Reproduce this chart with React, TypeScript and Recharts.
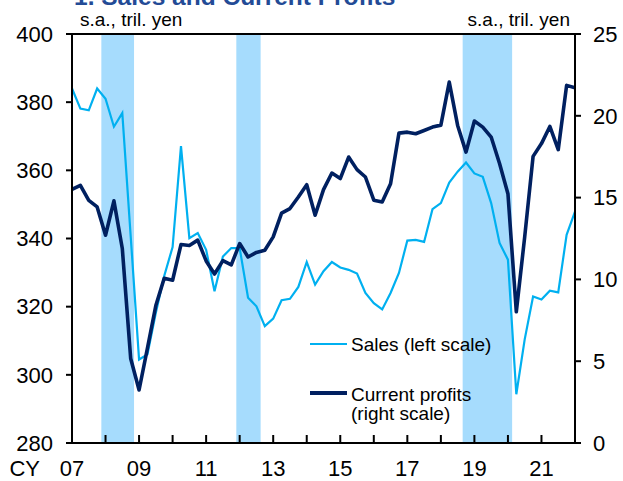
import { ComposedChart, Line, XAxis, YAxis, ReferenceArea, ReferenceLine } from "recharts";

const FONT = "'Liberation Sans', Arial, Helvetica, sans-serif";

// quarterly, CY2007 Q1 .. CY2022 Q1 (index 0..60)
const sales = [
  384.0, 378.1, 377.6, 384.0, 381.0, 372.8, 376.8, 340.7, 304.5, 306.0,
  318.2, 329.0, 337.5, 367.1, 340.1, 341.6, 336.7, 324.5, 334.7, 337.2,
  337.2, 322.6, 320.1, 314.3, 316.5, 321.9, 322.3, 325.8, 333.1, 326.5,
  330.4, 333.1, 331.5, 330.8, 329.7, 324.0, 321.0, 319.2, 324.0, 329.9,
  339.4, 339.6, 339.0, 348.6, 350.4, 356.4, 359.6, 362.3, 359.1, 358.1,
  350.4, 338.7, 333.8, 294.3, 310.4, 323.0, 322.1, 324.7, 324.2, 341.1,
  347.9,
];

const profits = [
  15.5, 15.75, 14.83, 14.43, 12.7, 14.8, 11.89, 5.17, 3.24, 5.8,
  8.4, 10.07, 9.95, 12.13, 12.07, 12.4, 11.13, 10.33, 11.15, 10.89,
  12.19, 11.37, 11.65, 11.78, 12.6, 14.05, 14.33, 15.04, 15.79, 13.92,
  15.49, 16.5, 16.16, 17.48, 16.71, 16.26, 14.84, 14.73, 15.85, 18.94,
  19.0, 18.9, 19.1, 19.31, 19.43, 22.06, 19.41, 17.78, 19.68, 19.31,
  18.7, 17.08, 15.24, 8.02, 12.6, 17.52, 18.3, 19.35, 17.93, 21.86,
  21.72,
];

const yearTicks = [0, 4, 8, 12, 16, 20, 24, 28, 32, 36, 40, 44, 48, 52, 56, 60];
const yearLabels: Record<number, string> = {
  0: "07", 8: "09", 16: "11", 24: "13", 32: "15", 40: "17", 48: "19", 56: "21",
};
const leftTicks = [280, 300, 320, 340, 360, 380, 400];
const rightTicks = [0, 5, 10, 15, 20, 25];

// recession shading, in quarter index units
const recessions = [
  [3.5, 7.4],
  [19.6, 22.5],
  [46.6, 52.5],
];

const data = sales.map((s, i) => ({ t: i, sales: s, profits: profits[i] }));

function YearTick({ x, y, payload }: any) {
  const label = yearLabels[payload.value];
  return (
    <g>
      <line x1={x} x2={x} y1={y} y2={y - 8} stroke="#000" strokeWidth={2} />
      {label && (
        <text x={x} y={y + 33} textAnchor="middle" fontSize={22} fill="#000" fontFamily={FONT}>
          {label}
        </text>
      )}
      {payload.value === 0 && (
        <text x={x - 32} y={y + 33} textAnchor="end" fontSize={22} fill="#000" fontFamily={FONT}>
          CY
        </text>
      )}
    </g>
  );
}

export default function App() {
  return (
    <div style={{ position: "absolute", left: 0, top: 0, width: 623, height: 481, background: "#fff" }}>
      <ComposedChart width={623} height={481} data={data} margin={{ top: 34, right: 0, left: 0, bottom: 0 }}>
        {recessions.map(([a, b], k) => (
          <ReferenceArea
            key={k}
            x1={a}
            x2={b}
            y1={280}
            y2={400}
            yAxisId="left"
            fill="#a6dcfd"
            fillOpacity={1}
            stroke="none"
            zIndex={50}
          />
        ))}
        <XAxis
          dataKey="t"
          type="number"
          domain={[0, 60]}
          ticks={yearTicks}
          interval={0}
          height={38}
          tickSize={0}
          tickMargin={0}
          tickLine={false}
          axisLine={{ stroke: "#000", strokeWidth: 2 }}
          tick={<YearTick />}
        />
        <YAxis
          yAxisId="left"
          orientation="left"
          width={72}
          domain={[280, 400]}
          ticks={leftTicks}
          interval={0}
          tickSize={6}
          tickMargin={13}
          axisLine={{ stroke: "#000", strokeWidth: 2 }}
          tickLine={{ stroke: "#000", strokeWidth: 2 }}
          tick={{ fill: "#000", fontSize: 22, fontFamily: FONT }}
        />
        <YAxis
          yAxisId="right"
          orientation="right"
          width={48}
          domain={[0, 25]}
          ticks={rightTicks}
          interval={0}
          tickSize={6}
          tickMargin={12}
          axisLine={{ stroke: "#000", strokeWidth: 2 }}
          tickLine={{ stroke: "#000", strokeWidth: 2 }}
          tick={{ fill: "#000", fontSize: 22, fontFamily: FONT, textAnchor: "start" }}
        />
        <ReferenceLine y={400} yAxisId="left" stroke="#000" strokeWidth={2} zIndex={600} />
        <Line
          yAxisId="left"
          type="linear"
          dataKey="sales"
          stroke="#00b0f0"
          strokeWidth={2.2}
          dot={false}
          activeDot={false}
          isAnimationActive={false}
        />
        <Line
          yAxisId="right"
          type="linear"
          dataKey="profits"
          stroke="#002060"
          strokeWidth={3.6}
          strokeLinejoin="round"
          dot={false}
          activeDot={false}
          isAnimationActive={false}
        />
      </ComposedChart>

      <svg
        width={623}
        height={481}
        style={{ position: "absolute", left: 0, top: 0, pointerEvents: "none" }}
        fontFamily={FONT}
      >
        <text x={74} y={5} fontSize={24.5} fontWeight="bold" fill="#234b96">
          1. Sales and Current Profits
        </text>
        <text x={80} y={26} fontSize={19} fill="#000">
          s.a., tril. yen
        </text>
        <text x={570} y={26} fontSize={19} fill="#000" textAnchor="end">
          s.a., tril. yen
        </text>

        <line x1={310} x2={347} y1={344} y2={344} stroke="#00b0f0" strokeWidth={2.2} />
        <text x={351} y={351} fontSize={19} fill="#000">
          Sales (left scale)
        </text>
        <line x1={310} x2={347} y1={393} y2={393} stroke="#002060" strokeWidth={4} />
        <text x={351} y={401} fontSize={19} fill="#000">
          Current profits
        </text>
        <text x={351} y={420} fontSize={19} fill="#000">
          (right scale)
        </text>
      </svg>
    </div>
  );
}
